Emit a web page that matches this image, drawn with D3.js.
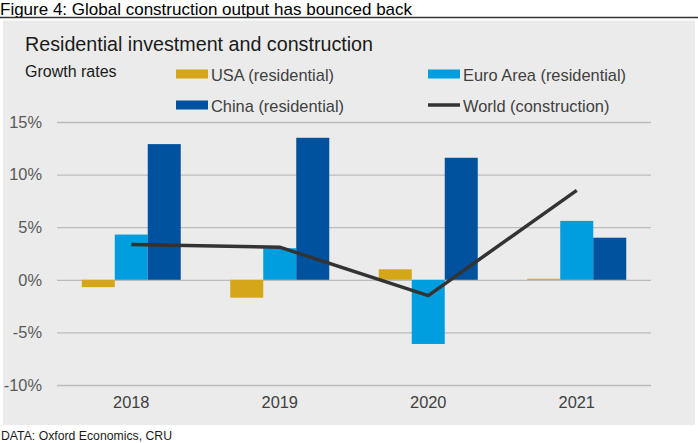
<!DOCTYPE html>
<html>
<head>
<meta charset="utf-8">
<script src="https://cdn.jsdelivr.net/npm/d3@7"></script>
<style>
  body { margin: 0; background: #fff; }
  text { font-family: "Liberation Sans", Arial, sans-serif; }
</style>
</head>
<body>
<div id="chart"></div>
<script>
// data (growth rates, %)
const years = ["2018", "2019", "2020", "2021"];
const usa = [-0.7, -1.7, 1.0, 0.1];
const euro = [4.3, 3.0, -6.1, 5.6];
const china = [12.9, 13.5, 11.6, 4.0];
const world = [3.35, 3.1, -1.5, 8.5];
const yTicks = [-10, -5, 0, 5, 10, 15];

const seriesNames = ["USA (residential)", "Euro Area (residential)", "China (residential)"];
const seriesColors = ["#d5a51a", "#009ede", "#00529f"];
const barSeries = [usa, euro, china];

const width = 698, height = 443;
const plot = {left: 57, right: 651, top: 122, bottom: 385};

const svg = d3.select("#chart").append("svg")
    .attr("width", width)
    .attr("height", height);

// figure heading
svg.append("text")
    .attr("x", 0).attr("y", 14.5)
    .attr("font-size", "17px")
    .attr("fill", "#000")
    .text("Figure 4: Global construction output has bounced back");

svg.append("line")
    .attr("x1", 0).attr("x2", width)
    .attr("y1", 17.5).attr("y2", 17.5)
    .attr("stroke", "#333").attr("stroke-width", 1.5);

// grey panel
svg.append("rect")
    .attr("x", 3).attr("y", 20.5)
    .attr("width", 692).attr("height", 404.5)
    .attr("fill", "#ebebeb");

svg.append("text")
    .attr("x", 25).attr("y", 50.5)
    .attr("font-size", "19.7px")
    .attr("fill", "#1a1a1a")
    .text("Residential investment and construction");

svg.append("text")
    .attr("x", 25).attr("y", 76.5)
    .attr("font-size", "16px")
    .attr("fill", "#1a1a1a")
    .text("Growth rates");

// legend
const legendItems = [
  {name: seriesNames[0], color: seriesColors[0], x: 176, y: 74, kind: "bar"},
  {name: seriesNames[1], color: seriesColors[1], x: 428, y: 74, kind: "bar"},
  {name: seriesNames[2], color: seriesColors[2], x: 176, y: 105, kind: "bar"},
  {name: "World (construction)", color: "#333333", x: 428, y: 105, kind: "line"}
];

const legend = svg.append("g");
legendItems.forEach(function(d) {
  if (d.kind == "bar") {
    legend.append("rect")
        .attr("x", d.x).attr("y", d.y - 4.5)
        .attr("width", 32).attr("height", 9)
        .attr("fill", d.color);
  } else {
    legend.append("line")
        .attr("x1", d.x).attr("x2", d.x + 32)
        .attr("y1", d.y).attr("y2", d.y)
        .attr("stroke", d.color).attr("stroke-width", 3.5);
  }
  legend.append("text")
      .attr("x", d.x + 35).attr("y", d.y + 6.5)
      .attr("font-size", "16.4px")
      .attr("fill", "#404040")
      .text(d.name);
});

// scales
const x = d3.scaleBand()
    .domain(years)
    .range([plot.left, plot.right]);

const xSub = d3.scaleBand()
    .domain(d3.range(barSeries.length))
    .range([x.bandwidth() / 6, x.bandwidth() * 5 / 6]);

const y = d3.scaleLinear()
    .domain([-10, 15])
    .range([plot.bottom, plot.top]);

// gridlines + y labels
svg.append("g")
    .attr("transform", `translate(${plot.left},0)`)
    .call(d3.axisLeft(y).tickValues(yTicks).tickSize(-(plot.right - plot.left)).tickFormat(d => d + "%"))
    .call(g => g.select(".domain").remove())
    .call(g => g.selectAll(".tick line").attr("stroke", "#bcbcbc").attr("stroke-width", 1.3))
    .call(g => g.selectAll(".tick text")
        .attr("x", -15)
        .attr("font-size", "16.4px")
        .attr("fill", "#595959")
        .attr("font-family", "Liberation Sans, Arial, sans-serif"));

// x labels
svg.append("g")
    .attr("transform", `translate(0,${plot.bottom})`)
    .call(d3.axisBottom(x).tickSize(0))
    .call(g => g.select(".domain").remove())
    .call(g => g.selectAll(".tick text")
        .attr("y", 23)
        .attr("dy", "0")
        .attr("font-size", "16.4px")
        .attr("fill", "#404040")
        .attr("font-family", "Liberation Sans, Arial, sans-serif"));

// bars
barSeries.forEach(function(vals, s) {
  svg.append("g")
    .selectAll("rect")
    .data(vals)
    .join("rect")
      .attr("x", (d, i) => x(years[i]) + xSub(s))
      .attr("y", d => y(Math.max(0, d)))
      .attr("width", xSub.bandwidth())
      .attr("height", d => Math.abs(y(d) - y(0)))
      .attr("fill", seriesColors[s]);
});

// world line
svg.append("path")
    .datum(world)
    .attr("fill", "none")
    .attr("stroke", "#333333")
    .attr("stroke-width", 3.5)
    .attr("d", d3.line()
        .x((d, i) => x(years[i]) + x.bandwidth() / 2)
        .y(d => y(d)));

// source
svg.append("text")
    .attr("x", 1).attr("y", 440)
    .attr("font-size", "13px")
    .attr("fill", "#1a1a1a")
    .attr("textLength", 171)
    .attr("lengthAdjust", "spacingAndGlyphs")
    .text("DATA: Oxford Economics, CRU");
</script>
</body>
</html>
